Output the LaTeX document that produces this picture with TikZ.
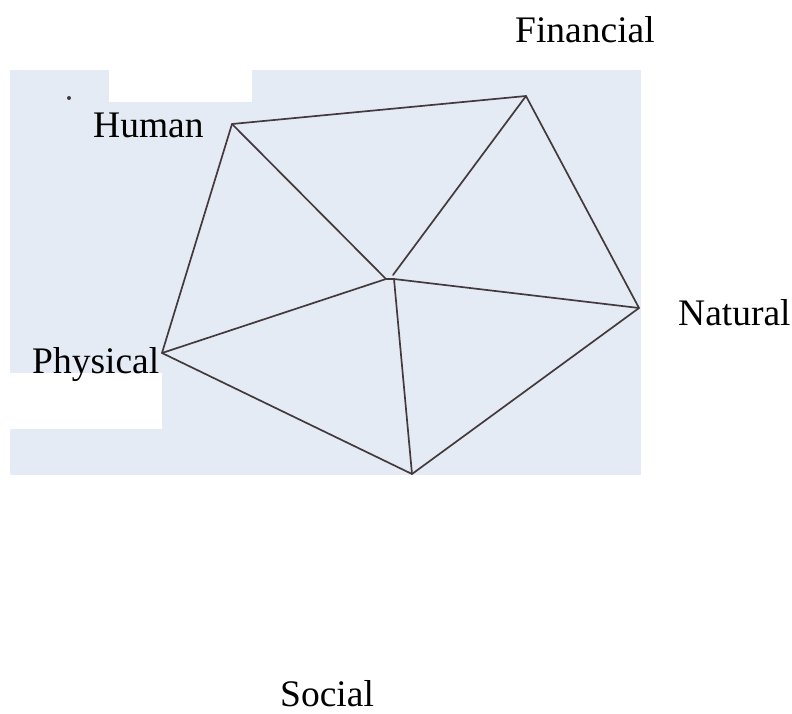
\documentclass[tikz,border=0pt]{standalone}
\usepackage{fontspec}
\setmainfont{Liberation Serif}
\definecolor{scan}{RGB}{228,235,244}
\definecolor{ink}{RGB}{68,58,62}
\begin{document}
\begin{tikzpicture}[x=1pt,y=-1pt,
  lbl/.style={font=\fontsize{37.5}{40}\selectfont, inner sep=0pt, anchor=base west},
  edge/.style={draw=ink, line width=1.7pt, line cap=round, line join=round}]
\useasboundingbox (0,0) rectangle (792,713);
% scanned background
\fill[scan] (10,70) rectangle (641,475);
\fill[white] (109,69) rectangle (252,102);
\fill[white] (9,373) rectangle (162,429);
\fill[ink] (69,98) circle (2);
% vertices
\coordinate (F) at (526,96);
\coordinate (H) at (232,124);
\coordinate (N) at (639,308);
\coordinate (P) at (162,353);
\coordinate (S) at (412,474);
\coordinate (cL) at (386,279);
\coordinate (cR) at (394,279);
\coordinate (cF) at (393,275);
% outline
\draw[edge] (H) -- (F) -- (N) -- (S) -- (P) -- cycle;
% spokes
\draw[edge] (H) -- (cL);
\draw[edge] (P) -- (cL);
\draw[edge] (cL) -- (cR);
\draw[edge] (F) -- (cF);
\draw[edge] (cR) -- (N);
\draw[edge] (cR) -- (S);
% labels
\node[lbl] (lF) at (515,42) {Financial};
\node[lbl] (lH) at (93,137) {Human};
\node[lbl] (lN) at (678,325) {Natural};
\node[lbl] (lP) at (32,373) {Physical};
\node[lbl, text depth=0pt] (lS) at (280,706) {Social};
\end{tikzpicture}
\end{document}
